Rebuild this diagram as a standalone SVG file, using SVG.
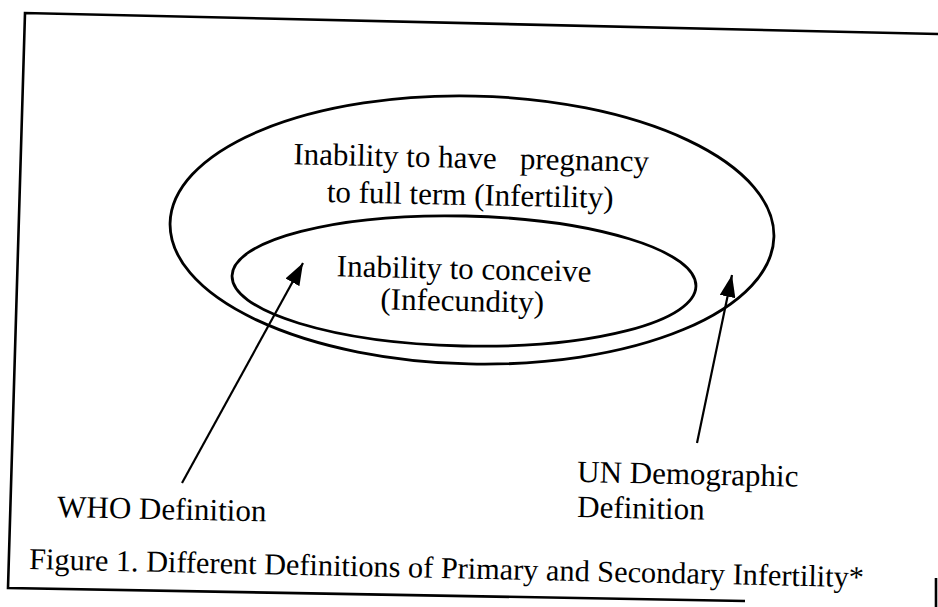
<svg xmlns="http://www.w3.org/2000/svg" width="938" height="607" viewBox="0 0 938 607">
<style>
.frame{fill:none;stroke:#000;stroke-width:2.6}
.ell{fill:none;stroke:#000;stroke-width:2.8}
.arr{fill:none;stroke:#000;stroke-width:2.2}
.t{font-family:"Liberation Serif","Times New Roman",serif;font-size:31px;fill:#000}
.cap{font-size:30.3px}
</style>
<defs>
<marker id="ah" markerUnits="userSpaceOnUse" markerWidth="24" markerHeight="16" refX="22" refY="8" orient="auto">
<path d="M0,0 L22,8 L0,16 z" fill="#000"/>
</marker>
</defs>
<rect width="938" height="607" fill="#fff"/>
<g id="frame">
<path class="frame" d="M938,34 L25,13 L8,588 L745,601"/>
<path class="frame" d="M936,578 L936,607"/>
</g>
<g id="outer">
<ellipse class="ell" cx="472" cy="230" rx="302" ry="134" transform="rotate(1.3 472 230)"/>
<text class="t" x="471" y="168" text-anchor="middle" transform="rotate(1.2 471 168)" xml:space="preserve">Inability to have   pregnancy</text>
<text class="t" x="470" y="205" text-anchor="middle" transform="rotate(1.2 470 205)">to full term (Infertility)</text>
</g>
<g id="inner">
<ellipse class="ell" cx="464" cy="281" rx="232" ry="65" transform="rotate(1.3 464 281)"/>
<text class="t" x="464" y="279" text-anchor="middle" transform="rotate(1.2 464 279)">Inability to conceive</text>
<text class="t" x="462" y="311" text-anchor="middle" transform="rotate(1.2 462 311)">(Infecundity)</text>
</g>
<g id="who">
<text class="t" x="57" y="517" transform="rotate(1.2 57 517)">WHO Definition</text>
</g>
<g id="un">
<text class="t" x="577" y="482" transform="rotate(1.2 577 482)">UN Demographic</text>
<text class="t" x="577" y="517" transform="rotate(1.2 577 517)">Definition</text>
</g>
<g id="caption">
<text class="t cap" x="29" y="569" transform="rotate(1.25 29 569)">Figure 1. Different Definitions of Primary and Secondary Infertility*</text>
</g>
<g id="connectors">
<line class="arr" x1="182" y1="483" x2="303" y2="263" marker-end="url(#ah)"/>
<line class="arr" x1="697" y1="443" x2="732" y2="275" marker-end="url(#ah)"/>
</g>
</svg>
